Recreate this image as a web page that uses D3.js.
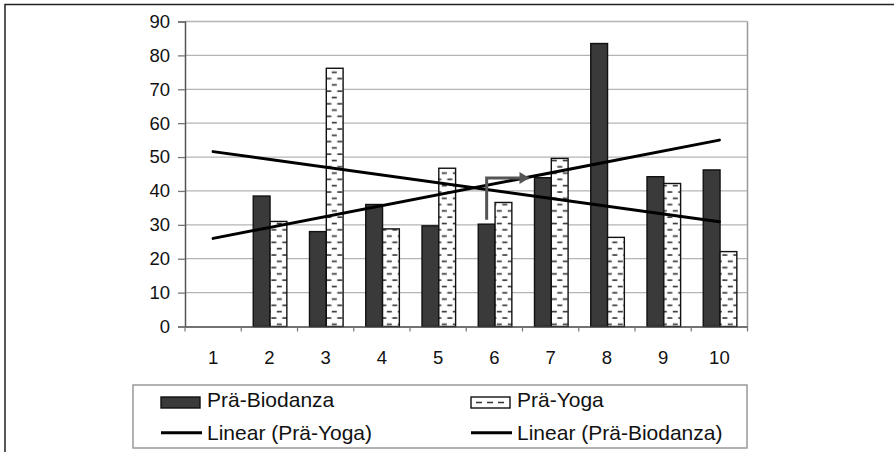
<!DOCTYPE html>
<html><head><meta charset="utf-8">
<script src="https://cdn.jsdelivr.net/npm/d3@7"></script>
<style>html,body{margin:0;padding:0;background:#fff;}svg{display:block;font-family:"Liberation Sans",Arial,sans-serif;}</style>
</head><body><svg id="c" width="894" height="452"></svg>
<script>
const categories = ["1","2","3","4","5","6","7","8","9","10"];
const bioValues  = [null, 38.5, 28.0, 36.0, 29.7, 30.2, 43.9, 83.5, 44.2, 46.2];
const yogaValues = [null, 31.0, 76.2, 28.8, 46.7, 36.6, 49.6, 26.3, 42.2, 22.1];
const yTicks = [0,10,20,30,40,50,60,70,80,90];
// trend lines (value at category 1 and at category 10)
const trendRising  = [["1", 26.0], ["10", 55.0]];
const trendFalling = [["1", 51.6], ["10", 30.9]];
const legendLabels = ["Prä-Biodanza", "Prä-Yoga", "Linear (Prä-Yoga)", "Linear (Prä-Biodanza)"];
// annotation arrow (category, value) points
const arrowPts = [["6", 31.5], ["6", 43.8], ["7", 43.8]];

const svg = d3.select("#c");
const L = 185, R = 747.5, T = 21.5, B = 326.5;
const x = d3.scaleBand().domain(categories).range([L, R]).padding(0);
const y = d3.scaleLinear().domain([0, 90]).range([B, T]);
const bw = 16.8, off = 12;

const defs = svg.append("defs");
const pat = defs.append("pattern").attr("id","dash").attr("patternUnits","userSpaceOnUse")
  .attr("width",11).attr("height",12.6).attr("x", L + off + bw + 1).attr("y", 0);
pat.append("rect").attr("width",11).attr("height",12.6).attr("fill","#fff");
pat.append("rect").attr("x",1.5).attr("y",2.2).attr("width",5).attr("height",1.6).attr("fill","#333");
pat.append("rect").attr("x",7).attr("y",8.5).attr("width",4).attr("height",1.6).attr("fill","#333");
pat.append("rect").attr("x",0).attr("y",8.5).attr("width",1).attr("height",1.6).attr("fill","#333");

// outer frame
svg.append("path").attr("d","M5,452V4.5H894").attr("fill","none").attr("stroke","#222").attr("stroke-width",1.5);

// gridlines
svg.append("g").selectAll("line").data(yTicks.filter(d=>d>0)).join("line")
  .attr("x1",L).attr("x2",R).attr("y1",d=>y(d)).attr("y2",d=>y(d))
  .attr("stroke","#b5b5b5").attr("stroke-width",1.3);
// right border
svg.append("line").attr("x1",R).attr("x2",R).attr("y1",T).attr("y2",B).attr("stroke","#999").attr("stroke-width",1.5);

// y axis
const ya = svg.append("g").attr("transform",`translate(${L},0)`)
  .call(d3.axisLeft(y).tickValues(yTicks).tickSize(7).tickPadding(8));
ya.select(".domain").attr("stroke","#555").attr("stroke-width",1.5);
ya.selectAll(".tick line").attr("stroke","#777").attr("stroke-width",1.3);
ya.selectAll("text").attr("font-size",18.5).attr("fill","#111").attr("font-family","Liberation Sans, Arial, sans-serif");

// bars
const gb = svg.append("g");
gb.selectAll("rect.bio").data(categories.map((c,i)=>({c,v:bioValues[i]})).filter(d=>d.v!=null)).join("rect")
  .attr("x",d=>x(d.c)+off).attr("width",bw).attr("y",d=>y(d.v)).attr("height",d=>B-y(d.v))
  .attr("fill","#3a3a3a").attr("stroke","#111").attr("stroke-width",1.4);
gb.selectAll("rect.yoga").data(categories.map((c,i)=>({c,v:yogaValues[i]})).filter(d=>d.v!=null)).join("rect")
  .attr("x",d=>x(d.c)+off+bw).attr("width",bw).attr("y",d=>y(d.v)).attr("height",d=>B-y(d.v))
  .attr("fill","url(#dash)").attr("stroke","#111").attr("stroke-width",1.4);

// x axis
const xa = svg.append("g").attr("transform",`translate(0,${B})`)
  .call(d3.axisBottom(x).tickSize(0).tickPadding(24));
xa.select(".domain").attr("stroke","#444").attr("stroke-width",1.6);
xa.selectAll("text").attr("font-size",18.5).attr("fill","#111").attr("font-family","Liberation Sans, Arial, sans-serif");
svg.append("g").selectAll("line").data(categories.concat(["end"])).join("line")
  .attr("x1",d=>d==="end"?R:x(d)).attr("x2",d=>d==="end"?R:x(d)).attr("y1",B).attr("y2",B+5)
  .attr("stroke","#777").attr("stroke-width",1.2);

// trend lines
const line = d3.line().x(d=>x(d[0])+x.bandwidth()/2).y(d=>y(d[1]));
[trendRising, trendFalling].forEach(t=>{
  svg.append("path").attr("d",line(t)).attr("fill","none").attr("stroke","#000").attr("stroke-width",3).attr("stroke-linecap","round");
});

// annotation arrow: from the centre of bar 6 (Biodanza) up and across towards bar 7
const ap = [
  [x(arrowPts[0][0]) + off + bw/2, y(arrowPts[0][1])],
  [x(arrowPts[1][0]) + off + bw/2, y(arrowPts[1][1])],
  [x(arrowPts[2][0]) + off/2, y(arrowPts[2][1])]
];
svg.append("path").attr("d",d3.line()(ap)).attr("fill","none").attr("stroke","#555").attr("stroke-width",3);
const tip = ap[2];
svg.append("path").attr("d",`M${tip[0]-9},${tip[1]-6}L${tip[0]+1},${tip[1]}L${tip[0]-9},${tip[1]+6}Z`).attr("fill","#555");

// legend
svg.append("rect").attr("x",133).attr("y",385).attr("width",614).attr("height",63)
  .attr("fill","#fff").attr("stroke","#999").attr("stroke-width",1.5);
const lg = svg.append("g").attr("font-size",21).attr("fill","#111");
const cols = [161, 471];
legendLabels.forEach((lab,i)=>{
  const cx = cols[i%2], row = Math.floor(i/2);
  if (row===0) {
    lg.append("rect").attr("x",cx).attr("y",397).attr("width",39).attr("height",11)
      .attr("fill", i===0 ? "#3a3a3a" : "#fff").attr("stroke","#111").attr("stroke-width",1.4);
    if (i===1) lg.append("path").attr("d",`M${cx+5},402.5h6M${cx+16},402.5h6M${cx+27},402.5h6`).attr("stroke","#333").attr("stroke-width",1.5);
    lg.append("text").attr("x",cx+46).attr("y",406.5).text(lab);
  } else {
    lg.append("line").attr("x1",cx).attr("x2",cx+41).attr("y1",432.7).attr("y2",432.7).attr("stroke","#000").attr("stroke-width",3);
    lg.append("text").attr("x",cx+46).attr("y",440).text(lab);
  }
});
</script></body></html>
